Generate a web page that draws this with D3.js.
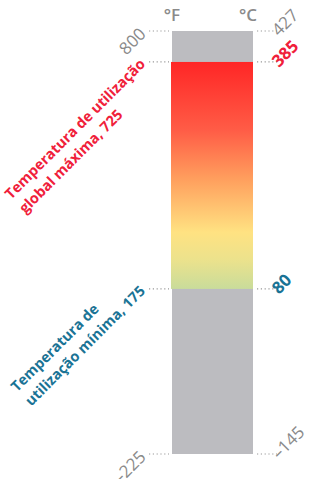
<!DOCTYPE html>
<html><head><meta charset="utf-8">
<script src="https://cdn.jsdelivr.net/npm/d3@7"></script>
<style>
html,body{margin:0;padding:0;background:#fff;}
svg{display:block;font-family:"Open Sans",sans-serif;}
</style></head>
<body><svg id="c" width="309" height="479"></svg>
<script>
const units = ["°F", "°C"];
const rangeF = [-225, 800];
const rangeC = [-145, 427];
const limitsF = [175, 725];
const limitsC = [80, 385];
const limitLines = [["Temperatura de", "utilização mínima, 175"], ["Temperatura de utilização", "global máxima, 725"]];
const limitColors = ["#1a7395", "#f0203a"];
const gradStops = [
  {o: 0, c: "#ff2626"}, {o: 0.3, c: "#ff5c46"}, {o: 0.52, c: "#ffa05e"},
  {o: 0.75, c: "#ffe282"}, {o: 0.87, c: "#ece28c"}, {o: 1, c: "#c9dc9b"}
];

const svg = d3.select("#c");
const x0 = 172, x1 = 253;
const yF = d3.scaleLinear().domain(rangeF).range([454, 31]);

const defs = svg.append("defs");
const lg = defs.append("linearGradient").attr("id", "g").attr("x1", 0).attr("x2", 0).attr("y1", 0).attr("y2", 1);
lg.selectAll("stop").data(gradStops).join("stop").attr("offset", d => d.o).attr("stop-color", d => d.c);

svg.append("rect").attr("x", x0).attr("width", x1 - x0)
  .attr("y", yF(rangeF[1])).attr("height", yF(rangeF[0]) - yF(rangeF[1])).attr("fill", "#bcbcc0");
svg.append("rect").attr("x", x0 - 1).attr("width", x1 - x0 + 1)
  .attr("y", yF(limitsF[1])).attr("height", yF(limitsF[0]) - yF(limitsF[1])).attr("fill", "url(#g)");

svg.selectAll("text.unit").data(units).join("text").attr("class", "unit")
  .attr("x", (d, i) => i ? x1 - 5 : x0).attr("y", 21).attr("text-anchor", "middle")
  .attr("fill", "#8a8a8a").attr("font-size", 17).attr("font-weight", 600).text(d => d);

const rows = [
  {f: rangeF[1], c: rangeC[1], col: "#8a8a8a", w: 400},
  {f: limitsF[1], c: limitsC[1], col: limitColors[1], w: 700, lines: limitLines[1]},
  {f: limitsF[0], c: limitsC[0], col: limitColors[0], w: 700, lines: limitLines[0]},
  {f: rangeF[0], c: rangeC[0], col: "#8a8a8a", w: 400}
];
const fmt = v => v < 0 ? "\u2013" + Math.abs(v) : String(v);

rows.forEach(r => {
  const y = yF(r.f);
  svg.append("line").attr("x1", 149).attr("x2", 169).attr("y1", y).attr("y2", y)
    .attr("stroke", "#999").attr("stroke-width", 1.2).attr("stroke-dasharray", "1.2,2.6");
  svg.append("line").attr("x1", 257).attr("x2", 277).attr("y1", y).attr("y2", y)
    .attr("stroke", "#999").attr("stroke-width", 1.2).attr("stroke-dasharray", "1.2,2.6");
  svg.append("text").attr("transform", `translate(279,${y + 6}) rotate(-45)`)
    .attr("fill", r.col).attr("font-size", 17).attr("font-weight", r.w).text(fmt(r.c));
  if (!r.lines) {
    svg.append("text").attr("transform", `translate(147,${y + 4}) rotate(-45)`)
      .attr("text-anchor", "end").attr("fill", r.col).attr("font-size", 17).attr("font-weight", r.w).text(fmt(r.f));
  } else {
    const g = svg.append("g").attr("transform", `translate(146,${y + 3}) rotate(-45)`);
    const t = g.append("text").attr("fill", r.col).attr("font-size", 14.5).attr("font-weight", 700);
    const spans = t.selectAll("tspan").data(r.lines).join("tspan").attr("x", 0).text(d => d);
    const widths = [];
    spans.each(function () { widths.push(this.getComputedTextLength()); });
    const maxW = Math.max(...widths);
    const li = widths.indexOf(maxW);
    spans.attr("x", -maxW).attr("dy", (d, i) => i ? 20 : -li * 20);
  }
});
</script></body></html>
